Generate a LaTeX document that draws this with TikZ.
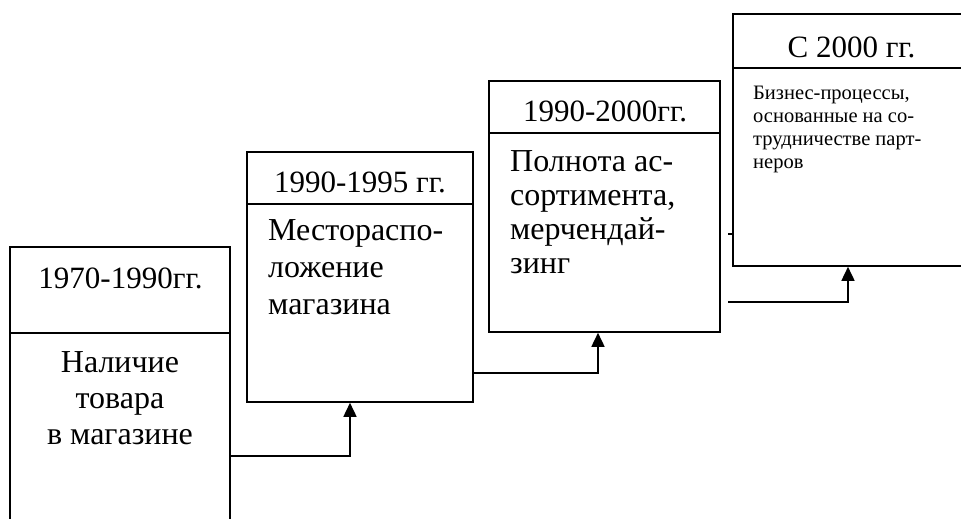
\documentclass[tikz,border=0pt]{standalone}
\usepackage{fontspec}
\setmainfont{Liberation Serif}
\usetikzlibrary{arrows.meta}
\tikzset{
  boxpart/.style={draw, line width=1.6pt, rectangle, inner sep=0pt, anchor=center},
  headtext/.style={font=\fontsize{31}{36}\selectfont, inner sep=0pt, anchor=base},
  bodytext/.style={inner sep=0pt, anchor=base west, align=left},
  conn/.style={line width=1.6pt, -{Triangle[length=14pt,width=13pt]}},
  plain/.style={line width=1.6pt}
}
\begin{document}
\begin{tikzpicture}[x=1pt,y=1pt]
\useasboundingbox (0,0) rectangle (961,519);
\clip (0,0) rectangle (961,519);
% box 1
\node[boxpart, minimum width=220pt, minimum height=86pt] (h1) at (120,229) {};
\node[boxpart, minimum width=220pt, minimum height=207pt] (b1) at (120,82.5) {};
\node[headtext] (t1) at (120.5,230) {1970-1990гг.};
\node[bodytext, anchor=base, align=center, font=\fontsize{32}{36}\selectfont] (x1) at (120,74) {Наличие\\товара\\в магазине};
% box 2
\node[boxpart, minimum width=226pt, minimum height=52pt] (h2) at (360,341) {};
\node[boxpart, minimum width=226pt, minimum height=198pt] (b2) at (360,216) {};
\node[headtext] (t2) at (360,326) {1990-1995 гг.};
\node[bodytext, font=\fontsize{32}{37}\selectfont] (x2) at (268,204) {Местораспо-\\ложение\\магазина};
% box 3
\node[boxpart, minimum width=231pt, minimum height=52pt] (h3) at (604.5,412) {};
\node[boxpart, minimum width=231pt, minimum height=199pt] (b3) at (604.5,286.5) {};
\node[headtext] (t3) at (605,397) {1990-2000гг.};
\node[bodytext, font=\fontsize{32}{34}\selectfont] (x3) at (510,245) {Полнота ас-\\сортимента,\\мерчендай-\\зинг};
% box 4
\node[boxpart, minimum width=237pt, minimum height=54pt] (h4) at (851.5,478) {};
\node[boxpart, minimum width=237pt, minimum height=198pt] (b4) at (851.5,352) {};
\node[headtext] (t4) at (851.5,461) {С 2000 гг.};
\node[bodytext, font=\fontsize{20.5}{23}\selectfont] (x4) at (753,350) {Бизнес-процессы,\\основанные на со-\\трудничестве парт-\\неров};
% connectors
\draw[conn] (b1.east |- 0,63) -| (b2.south -| 350,0);
\draw[conn] (b2.east |- 0,146) -| (b3.south -| 598,0);
\coordinate (c3) at (728,217);
\draw[conn] (c3) -| (b4.south -| 848,0);
\coordinate (s3) at (728,285);
\draw[plain] (s3) -- (b4.west |- s3);
\end{tikzpicture}
\end{document}
